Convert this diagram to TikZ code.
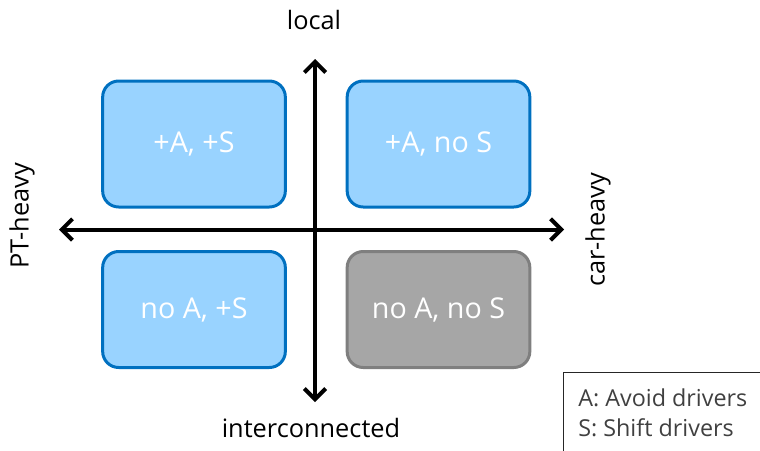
\documentclass[tikz,border=0pt]{standalone}
\usepackage{fontspec}
\setmainfont{Open Sans}
\usepackage{tikz}
\usetikzlibrary{arrows.meta}
\usepackage{xcolor}

\definecolor{boxblue}{RGB}{153,211,255}
\definecolor{edgeblue}{RGB}{0,112,192}
\definecolor{boxgray}{RGB}{166,166,166}
\definecolor{edgegray}{RGB}{127,127,127}
\definecolor{legendtext}{RGB}{64,64,64}

\tikzset{
  quadbox/.style={draw=edgeblue, fill=boxblue, line width=2.25pt, rounded corners=12pt,
    minimum width=137pt, text=white, font=\fontsize{21.5}{24}\selectfont},
  axislabel/.style={inner sep=0.75pt, font=\fontsize{19}{22}\selectfont},
  axisarrow/.style={line width=3pt, -{Straight Barb[length=8pt,width=16pt,line width=3pt]}}
}

\begin{document}
\begin{tikzpicture}[x=0.75pt,y=0.75pt,yscale=-1,xscale=1]
\useasboundingbox (0,0) rectangle (760,450);

% Quadrant boxes
\node [quadbox, minimum height=94.5pt] (al) at (194,144) {+A, +S};
\node [quadbox, minimum height=94.5pt] (ac) at (438.5,144) {+A, no S};
\node [quadbox, minimum height=87pt] (il) at (194,309.5) {no A, +S};
\node [quadbox, minimum height=87pt, draw=edgegray, fill=boxgray] (ic) at (438.5,309.5) {no A, no S};

% Axis ends
\coordinate (top) at (315,59);
\coordinate (bottom) at (315,402);
\coordinate (left) at (59,229.5);
\coordinate (right) at (564,229.5);
\coordinate (origin) at (315,229.5);

% Axes
\draw [axisarrow] (origin) -- (top);
\draw [axisarrow] (origin) -- (bottom);
\draw [axisarrow] (origin) -- (left);
\draw [axisarrow] (origin) -- (right);

% Text Node
\node [axislabel] (local) at (314,20) {local};
% Text Node
\node [axislabel] (inter) at (311,428) {interconnected};
% Text Node
\node [axislabel, rotate=90] (pt) at (22,216) {PT-heavy};
% Text Node
\node [axislabel, rotate=90] (car) at (598,230) {car-heavy};

% Legend
\node [draw=black!85, line width=1pt, anchor=north west, minimum width=170pt, minimum height=100pt] (legend) at (563,372) {};
% Text Node
\node [anchor=north west, inner sep=0pt, align=left, text=legendtext,
  font=\fontsize{17.5}{22.5}\selectfont] (legtext) at (578,388) {A: Avoid drivers\\S: Shift drivers};

\end{tikzpicture}
\end{document}
